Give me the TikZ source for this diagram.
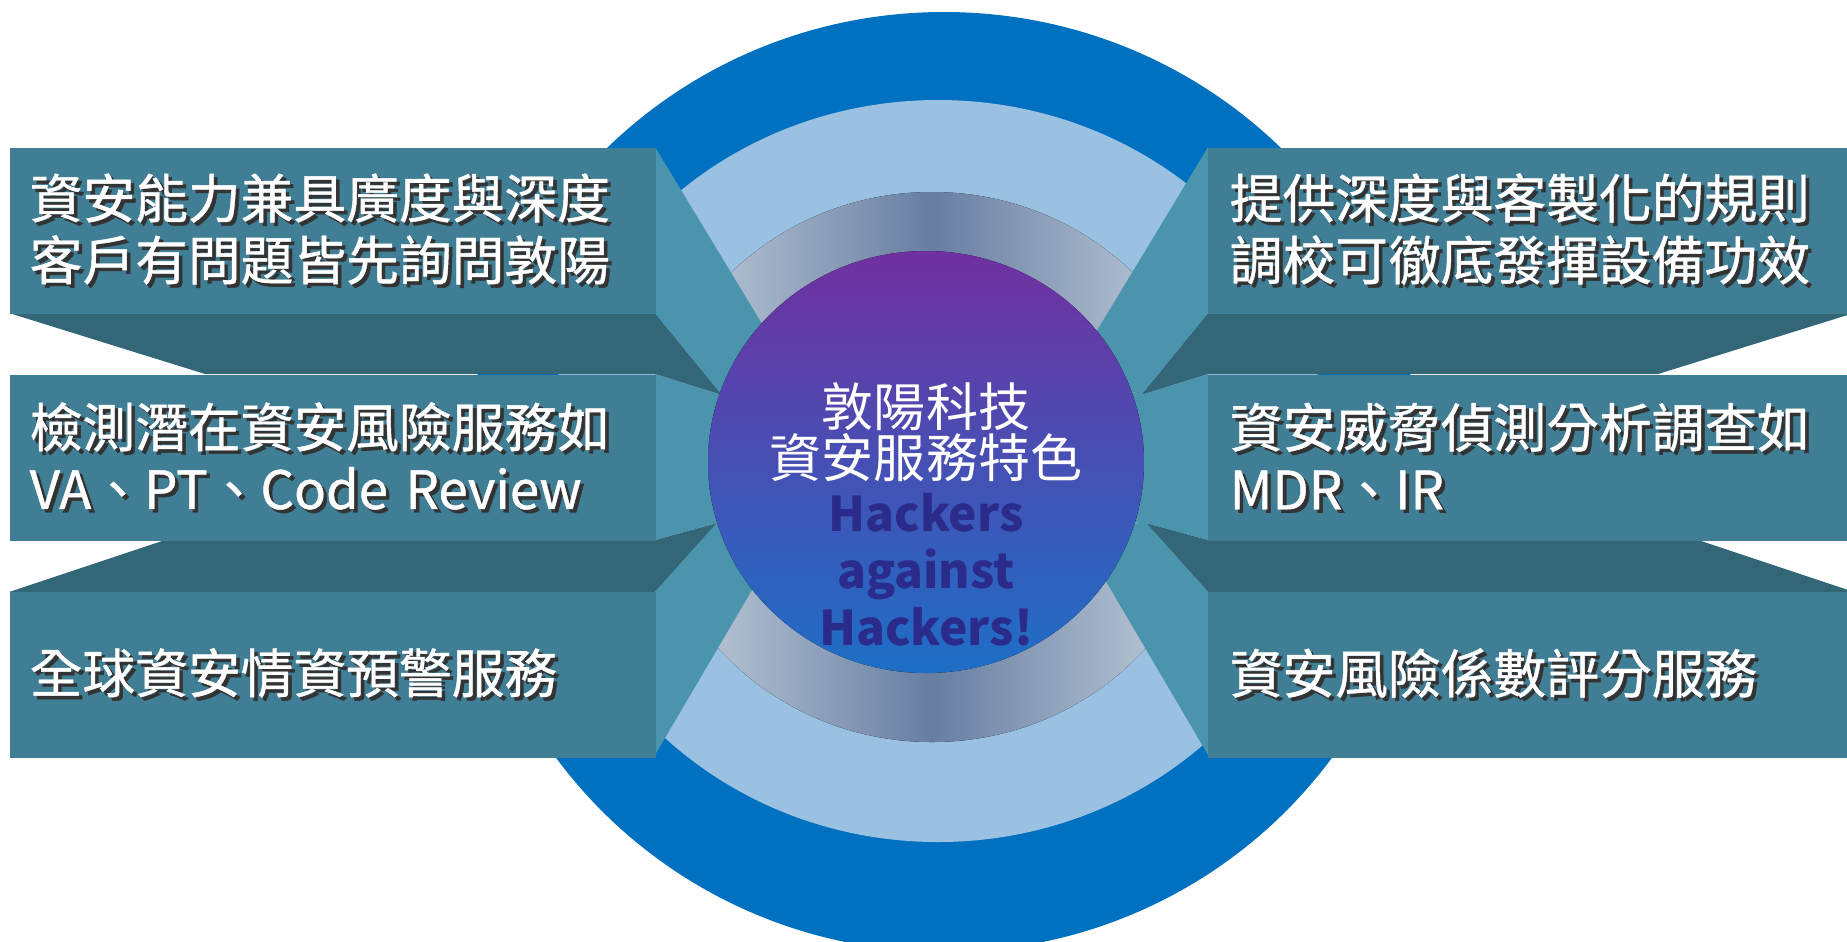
\documentclass[tikz,border=0pt]{standalone}
\usepackage{fontspec}
\setmainfont{Noto Sans CJK TC}
\newfontfamily\panelfont[FakeBold=0.8]{Noto Sans CJK TC}
\usepackage{tikz}
\usetikzlibrary{positioning}

\definecolor{OuterBlue}{HTML}{0070C0}
\definecolor{PaleBlue}{HTML}{9AC1E2}
\definecolor{RingLight}{HTML}{CAD4E0}
\definecolor{RingDark}{HTML}{677EA2}
\definecolor{CorePurple}{HTML}{7030A0}
\definecolor{CoreBlue}{HTML}{1D6FC7}
\definecolor{PanelFace}{HTML}{3F7E94}
\definecolor{PanelSide}{HTML}{4A94AD}
\definecolor{PanelShade}{HTML}{336677}
\definecolor{HackerNavy}{HTML}{2B2B8C}

\newcommand{\shadowed}[1]{\makebox[0pt][l]{\kern1pt\raisebox{-1pt}{\textcolor{black!80}{#1}}}#1}

\tikzset{
  panel/.style={fill=PanelFace, anchor=north west, minimum height=1.66cm, inner ysep=0pt,
    text=white, align=left, font=\panelfont\fontsize{15}{17.6}\selectfont},
}

\begin{document}
\begin{tikzpicture}[x=0.01cm, y=-0.01cm]
    \useasboundingbox (0,0) rectangle (1847,941);

    % rings
    \fill[OuterBlue] (944,482) ellipse [x radius=479, y radius=470];
    \fill[PaleBlue] (938,471) ellipse [x radius=393, y radius=371];
    \fill[left color=RingLight, right color=RingLight, middle color=RingDark] (932,467) ellipse [x radius=284, y radius=275];

    % shaded faces of the panels, left side and its mirror
    \foreach \sx/\dx in {1/0cm, -1/18.62cm} {
        \begin{scope}[xshift=\dx, xscale=\sx]
            \fill[PanelShade] (9,313) -- (655,313) -- (722,395) -- (655,374) -- (205,374) -- cycle;
            \fill[PanelShade] (9,592) -- (165,540) -- (655,540) -- (717,523) -- (655,592) -- cycle;
            \fill[PanelSide] (655,147) -- (790,370) -- (722,395) -- (655,313) -- cycle;
            \fill[PanelSide] (655,374) -- (722,395) -- (790,372) -- (800,520) -- (717,523) -- (655,540) -- cycle;
            \fill[PanelSide] (655,592) -- (717,523) -- (790,525) -- (785,534) -- (655,755) -- cycle;
        \end{scope}
    }

    \fill[top color=CorePurple, bottom color=CoreBlue] (926,462) ellipse [x radius=218, y radius=211];

    % panels
    \node[panel, minimum width=6.46cm, text width=6.06cm, inner xsep=0.2cm] (left1) at (9,147)
        {\shadowed{資安能力兼具廣度與深度}\\\shadowed{客戶有問題皆先詢問敦陽}};
    \node[panel, minimum width=6.46cm, text width=6.06cm, inner xsep=0.2cm] (left2) at (9,374)
        {\shadowed{檢測潛在資安風險服務如}\\\shadowed{VA、PT、Code Review}};
    \node[panel, minimum width=6.46cm, text width=6.06cm, inner xsep=0.2cm] (left3) at (9,591)
        {\shadowed{全球資安情資預警服務}};

    \node[panel, minimum width=6.45cm, text width=6.01cm, inner xsep=0.22cm] (right1) at (1207,147)
        {\shadowed{提供深度與客製化的規則}\\\shadowed{調校可徹底發揮設備功效}};
    \node[panel, minimum width=6.45cm, text width=6.01cm, inner xsep=0.22cm] (right2) at (1207,374)
        {\shadowed{資安威脅偵測分析調查如}\\\shadowed{MDR、IR}};
    \node[panel, minimum width=6.45cm, text width=6.01cm, inner xsep=0.22cm] (right3) at (1207,591)
        {\shadowed{資安風險係數評分服務}};

    % centre
    \node[text=white, align=center, font=\fontsize{14.8}{14.5}\selectfont] (title) at (926,432) {敦陽科技\\資安服務特色};
    \node[text=HackerNavy, align=center, font=\bfseries\fontsize{13.6}{16.2}\selectfont] (motto) at (926,570) {Hackers\\against\\Hackers!};

\end{tikzpicture}
\end{document}
